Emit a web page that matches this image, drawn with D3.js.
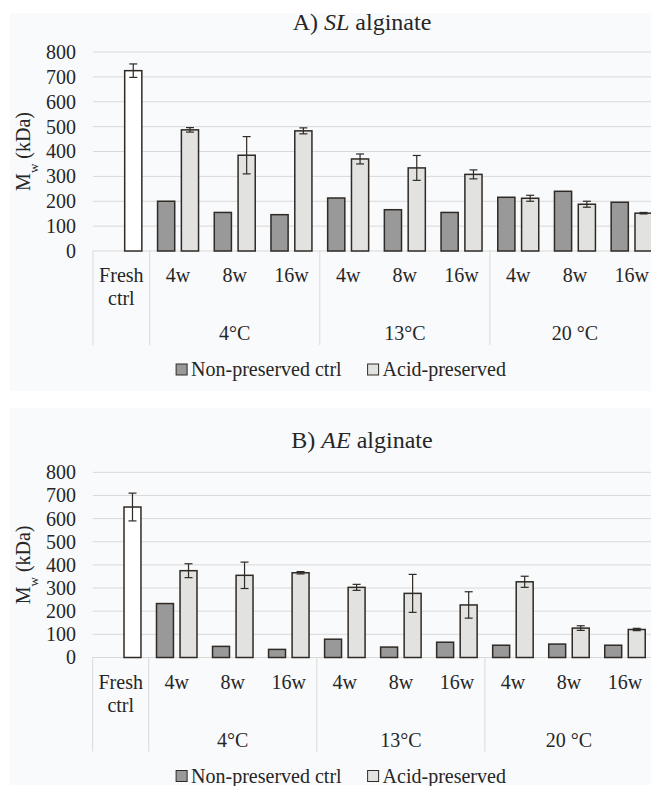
<!DOCTYPE html>
<html>
<head>
<meta charset="utf-8">
<script src="https://cdn.jsdelivr.net/npm/d3@7"></script>
<style>
body { margin: 0; background: #fff; }
svg text { font-family: "Liberation Serif", "Times New Roman", Times, "DejaVu Serif", serif !important; fill: #262626; }
</style>
</head>
<body>
<div id="chart"></div>
<script>
// category labels
var weeks = ["4w", "8w", "16w"];
var temps = ["4°C", "13°C", "20 °C"];
var seriesNames = ["Non-preserved ctrl", "Acid-preserved"];
var yTicks = [0, 100, 200, 300, 400, 500, 600, 700, 800];

// A) SL alginate (kDa)
var slFresh = 725, slFreshErr = 27;
var slNon = [200, 155, 146, 213, 166, 155, 216, 240, 196];
var slAcid = [487, 385, 483, 370, 334, 308, 212, 188, 152];
var slAcidErr = [9, 75, 12, 20, 50, 18, 12, 12, 3];

// B) AE alginate (kDa)
var aeFresh = 650, aeFreshErr = 60;
var aeNon = [233, 48, 35, 79, 45, 66, 53, 58, 53];
var aeAcid = [375, 355, 366, 303, 277, 227, 327, 127, 121];
var aeAcidErr = [30, 57, 5, 13, 82, 57, 24, 10, 5];

var W = 651, H = 786;
var colNon = "#999999", colAcid = "#e2e3e1", colFresh = "#ffffff";
var stroke = "#2f2a25", grid = "#d9d9d9";
var serif = "'Liberation Serif', 'Times New Roman', Times, 'DejaVu Serif', serif";

var svg = d3.select("#chart").append("svg")
    .attr("width", W)
    .attr("height", H)
    .style("font-family", serif);

// faint panel backgrounds
svg.append("rect").attr("x", 10).attr("y", 13).attr("width", W - 10).attr("height", 378).attr("fill", "#f9fafc");
svg.append("rect").attr("x", 10).attr("y", 408).attr("width", W - 10).attr("height", 377).attr("fill", "#f9fafc");

var cats = ["Fresh ctrl"];
temps.forEach(function(t) { weeks.forEach(function(w) { cats.push(t + "|" + w); }); });

function drawChart(o) {
    var g = svg.append("g");

    var x = d3.scaleBand().domain(cats).range([o.x0, o.x1]).padding(0);
    var sub = d3.scaleBand().domain(seriesNames).range([0, x.step()])
        .paddingInner(0.28).paddingOuter(0.33);
    var y = d3.scaleLinear().domain([0, 800]).range([o.zero, o.top]);

    // title
    var t = g.append("text")
        .attr("x", 362).attr("y", o.titleY)
        .attr("text-anchor", "middle")
        .style("font-size", "24px");
    t.append("tspan").text(o.letter + ") ");
    t.append("tspan").style("font-style", "italic").text(o.name);
    t.append("tspan").text(" alginate");

    // gridlines
    g.selectAll(".grid").data(yTicks).enter().append("line")
        .attr("x1", o.x0).attr("x2", W)
        .attr("y1", function(d) { return y(d); })
        .attr("y2", function(d) { return y(d); })
        .attr("stroke", grid).attr("stroke-width", 1);

    // y axis labels
    var yAxis = d3.axisLeft(y).tickValues(yTicks).tickSize(0).tickPadding(0);
    var ya = g.append("g").attr("transform", "translate(76,0)").call(yAxis)
        .attr("font-family", null).attr("font-size", null);
    ya.select(".domain").remove();
    ya.selectAll("text").style("font-size", "20px").attr("fill", "#262626");

    // y title
    var yt = g.append("text")
        .attr("transform", "translate(30," + ((o.zero + o.top) / 2) + ") rotate(-90)")
        .attr("text-anchor", "middle")
        .style("font-size", "20px");
    yt.append("tspan").text("M");
    yt.append("tspan").attr("baseline-shift", "sub").style("font-size", "13px").text("w");
    yt.append("tspan").text(" (kDa)");

    // category separators (x axis)
    var seps = [0, 1, 4, 7, 10];
    g.selectAll(".sep").data(seps).enter().append("line")
        .attr("x1", function(i) { return o.x0 + i * x.step(); })
        .attr("x2", function(i) { return o.x0 + i * x.step(); })
        .attr("y1", o.zero).attr("y2", o.zero + 94)
        .attr("stroke", grid).attr("stroke-width", 1);

    // category labels
    g.append("text").attr("x", x(cats[0]) + x.step() / 2).attr("y", o.zero + 24)
        .attr("dy", "0.35em").attr("text-anchor", "middle").style("font-size", "20px").text("Fresh");
    g.append("text").attr("x", x(cats[0]) + x.step() / 2).attr("y", o.zero + 47)
        .attr("dy", "0.35em").attr("text-anchor", "middle").style("font-size", "20px").text("ctrl");
    g.selectAll(".wk").data(cats.slice(1)).enter().append("text")
        .attr("x", function(c) { return x(c) + x.step() / 2; })
        .attr("y", o.zero + 24).attr("dy", "0.35em")
        .attr("text-anchor", "middle").style("font-size", "20px")
        .text(function(c) { return c.split("|")[1]; });
    g.selectAll(".tp").data(temps).enter().append("text")
        .attr("x", function(tp) { return x(tp + "|" + weeks[1]) + x.step() / 2; })
        .attr("y", o.zero + 82).attr("dy", "0.35em")
        .attr("text-anchor", "middle").style("font-size", "20px")
        .text(function(tp) { return tp; });

    // bars
    var rows = [];
    rows.push({c: cats[0], s: seriesNames[1], v: o.fresh, e: o.freshErr, fill: colFresh});
    cats.slice(1).forEach(function(c, i) {
        rows.push({c: c, s: seriesNames[0], v: o.non[i], e: null, fill: colNon});
        rows.push({c: c, s: seriesNames[1], v: o.acid[i], e: o.acidErr[i], fill: colAcid});
    });

    g.selectAll(".bar").data(rows).enter().append("rect")
        .attr("x", function(d) { return x(d.c) + sub(d.s); })
        .attr("width", sub.bandwidth())
        .attr("y", function(d) { return y(d.v); })
        .attr("height", function(d) { return y(0) - y(d.v); })
        .attr("fill", function(d) { return d.fill; })
        .attr("stroke", stroke).attr("stroke-width", 1.5);

    // error bars
    var errs = rows.filter(function(d) { return d.e != null; });
    var eg = g.selectAll(".err").data(errs).enter().append("g")
        .attr("stroke", stroke).attr("stroke-width", 1.2);
    function cx(d) { return x(d.c) + sub(d.s) + sub.bandwidth() / 2; }
    eg.append("line")
        .attr("x1", cx).attr("x2", cx)
        .attr("y1", function(d) { return y(d.v + d.e); })
        .attr("y2", function(d) { return y(d.v - d.e); });
    [1, -1].forEach(function(sgn) {
        eg.append("line")
            .attr("x1", function(d) { return cx(d) - 4; })
            .attr("x2", function(d) { return cx(d) + 4; })
            .attr("y1", function(d) { return y(d.v + sgn * d.e); })
            .attr("y2", function(d) { return y(d.v + sgn * d.e); });
    });

    // legend
    var lg = g.append("g");
    var xpos = 0;
    [colNon, colAcid].forEach(function(col, i) {
        var it = lg.append("g").attr("transform", "translate(" + xpos + ",0)");
        it.append("rect").attr("x", 0).attr("y", -5).attr("width", 11).attr("height", 11)
            .attr("fill", col).attr("stroke", stroke).attr("stroke-width", 1);
        var tx = it.append("text").attr("x", 15).attr("dy", "0.35em")
            .style("font-size", "20px").text(seriesNames[i]);
        xpos += 15 + tx.node().getComputedTextLength() + 26;
    });
    var lw = xpos - 26;
    lg.attr("transform", "translate(" + (341 - lw / 2) + "," + (o.zero + 118) + ")");
}

drawChart({letter: "A", name: "SL", titleY: 30, zero: 251, top: 52, x0: 93, x1: 660,
    fresh: slFresh, freshErr: slFreshErr, non: slNon, acid: slAcid, acidErr: slAcidErr});
drawChart({letter: "B", name: "AE", titleY: 448, zero: 657.5, top: 472.3, x0: 92.7, x1: 653,
    fresh: aeFresh, freshErr: aeFreshErr, non: aeNon, acid: aeAcid, acidErr: aeAcidErr});
</script>
</body>
</html>
